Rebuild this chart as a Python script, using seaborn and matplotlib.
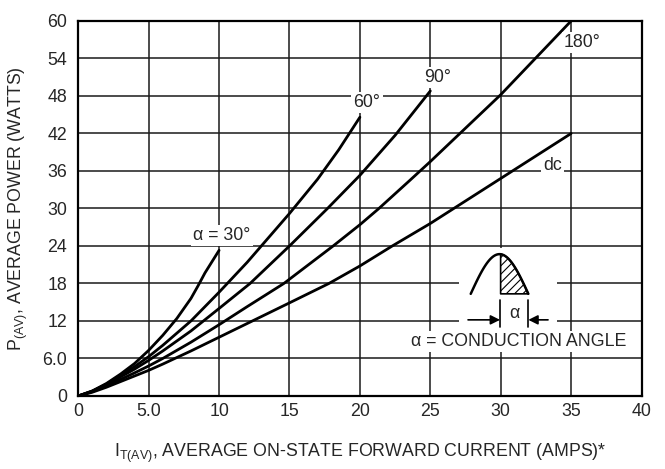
import numpy as np
import pandas as pd
import matplotlib
matplotlib.use("Agg")
import matplotlib.pyplot as plt
import seaborn as sns

# ---- data ----
I_30 = [0, 1, 2, 3, 4, 5, 6, 7, 8, 8.5, 9, 10]
P_30 = [0, 0.8, 2.0, 3.5, 5.2, 7.3, 9.7, 12.4, 15.6, 17.6, 19.7, 23.3]

I_60 = [0, 1, 2, 4, 5, 6, 8, 10, 12, 13, 15, 17, 18.5, 20]
P_60 = [0, 0.8, 1.9, 4.7, 6.3, 8.1, 12.0, 16.6, 21.4, 24.0, 29.2, 34.7, 39.4, 44.6]

I_90 = [0, 1, 2, 4, 5, 6, 8, 10, 12.2, 15, 17.7, 20, 22.5, 25]
P_90 = [0, 0.75, 1.8, 4.3, 5.7, 7.2, 10.4, 14.0, 18.0, 24.0, 30.0, 35.3, 41.7, 48.8]

I_180 = [0, 1, 2, 4, 5, 6, 8, 10, 12, 14.6, 18.1, 20, 21.3, 23.5, 25, 30, 35]
P_180 = [0, 0.7, 1.6, 3.7, 4.8, 6.0, 8.6, 11.4, 14.3, 18.0, 24.0, 27.4, 29.9, 34.4, 37.5, 48.2, 60.0]

I_dc = [0, 1, 2, 4, 5, 6, 8, 10, 12, 15, 17.8, 20, 22.3, 25, 30, 35]
P_dc = [0, 0.6, 1.4, 3.2, 4.1, 5.1, 7.2, 9.4, 11.6, 14.9, 18.0, 20.8, 24.0, 27.6, 34.8, 42.0]

x_ticks = [0, 5, 10, 15, 20, 25, 30, 35, 40]
x_tick_labels = ["0", "5.0", "10", "15", "20", "25", "30", "35", "40"]
y_ticks = [0, 6, 12, 18, 24, 30, 36, 42, 48, 54, 60]
y_tick_labels = ["0", "6.0", "12", "18", "24", "30", "36", "42", "48", "54", "60"]

curve_labels = ["\u03b1 = 30\u00b0", "60\u00b0", "90\u00b0", "180\u00b0", "dc"]
label_pos = [(10.2, 25.7), (20.5, 47.0), (25.5, 51.0), (35.8, 56.5), (33.7, 36.9)]

# ---- style ----
sns.set_theme(style="white")
FAM = ["Liberation Sans Narrow", "Liberation Sans", "DejaVu Sans"]
plt.rcParams["font.family"] = FAM
plt.rcParams["mathtext.fontset"] = "custom"
plt.rcParams["mathtext.rm"] = "Liberation Sans"
plt.rcParams["hatch.linewidth"] = 0.8
FS = 12.8

fig = plt.figure(figsize=(6.65, 4.69), dpi=100)
ax = fig.add_axes([0.1177, 0.1557, 0.847, 0.7996])

frames = []
for name, xs, ys in [("30", I_30, P_30), ("60", I_60, P_60), ("90", I_90, P_90),
                     ("180", I_180, P_180), ("dc", I_dc, P_dc)]:
    frames.append(pd.DataFrame({"I": xs, "P": ys, "curve": name}))
df = pd.concat(frames, ignore_index=True)

for name, g in df.groupby("curve", sort=False):
    sns.lineplot(data=g, x="I", y="P", color="black", lw=2.0, sort=False,
                 estimator=None, ax=ax, zorder=4)

ax.set_xlim(0, 40)
ax.set_ylim(0, 60)
ax.set_xticks(x_ticks)
ax.set_xticklabels(x_tick_labels, fontsize=FS)
ax.set_yticks(y_ticks)
ax.set_yticklabels(y_tick_labels, fontsize=FS)
ax.tick_params(axis="x", length=0, pad=5)
ax.tick_params(axis="y", length=0, pad=8)
ax.grid(True, color="#1a1a1a", lw=1.1)
ax.set_axisbelow(True)
for s in ax.spines.values():
    s.set_visible(True)
    s.set_color("black")
    s.set_linewidth(1.6)

ax.set_xlabel(r"I$_{\mathregular{T(AV)}}$, AVERAGE ON-STATE FORWARD CURRENT (AMPS)*",
              fontsize=FS, va="center")
ax.xaxis.set_label_coords(0.5, -0.152)
ax.set_ylabel(r"P$_{\mathregular{(AV)}}$, AVERAGE POWER (WATTS)", fontsize=FS, va="center")
ax.yaxis.set_label_coords(-0.107, 0.5)

for txt, (lx, ly) in zip(curve_labels, label_pos):
    ax.text(lx, ly, txt, ha="center", va="center", fontsize=FS, zorder=5,
            bbox=dict(facecolor="white", edgecolor="none", pad=1.5))

# ---- conduction-angle schematic (decoration) ----
axi = ax.inset_axes([0.676, 0.171, 0.174, 0.224])
axi.set_facecolor("white")
axi.set_xticks([])
axi.set_yticks([])
for s in axi.spines.values():
    s.set_visible(False)
axi.set_xlim(459, 557)
axi.set_ylim(332, 248)
axi.set_zorder(5)
xa = np.linspace(470.7, 528.3, 80)
ya = 294 - 39.7 * np.sin(np.pi * (xa - 470.7) / 57.6)
axi.plot(xa, ya, color="black", lw=1.8)
m = xa >= 500
axi.fill_between(xa[m], ya[m], 294, facecolor="white", edgecolor="black",
                 hatch="////", lw=1.2)
for xv in (500, 528.3):
    axi.plot([xv, xv], [300, 327], color="black", lw=1.2)
axi.annotate("", xy=(500, 320), xytext=(468, 320),
             arrowprops=dict(arrowstyle="-|>", color="black", lw=1.2,
                             mutation_scale=14, shrinkA=0, shrinkB=0))
axi.annotate("", xy=(528.3, 320), xytext=(548, 320),
             arrowprops=dict(arrowstyle="-|>", color="black", lw=1.2,
                             mutation_scale=14, shrinkA=0, shrinkB=0))
axi.text(514, 314, "\u03b1", ha="center", va="center", fontsize=FS)

ax.text(31.3, 8.7, "\u03b1 = CONDUCTION ANGLE", ha="center", va="center",
        fontsize=FS, zorder=6, bbox=dict(facecolor="white", edgecolor="none", pad=1.5))

fig.savefig("out.png", dpi=100)
